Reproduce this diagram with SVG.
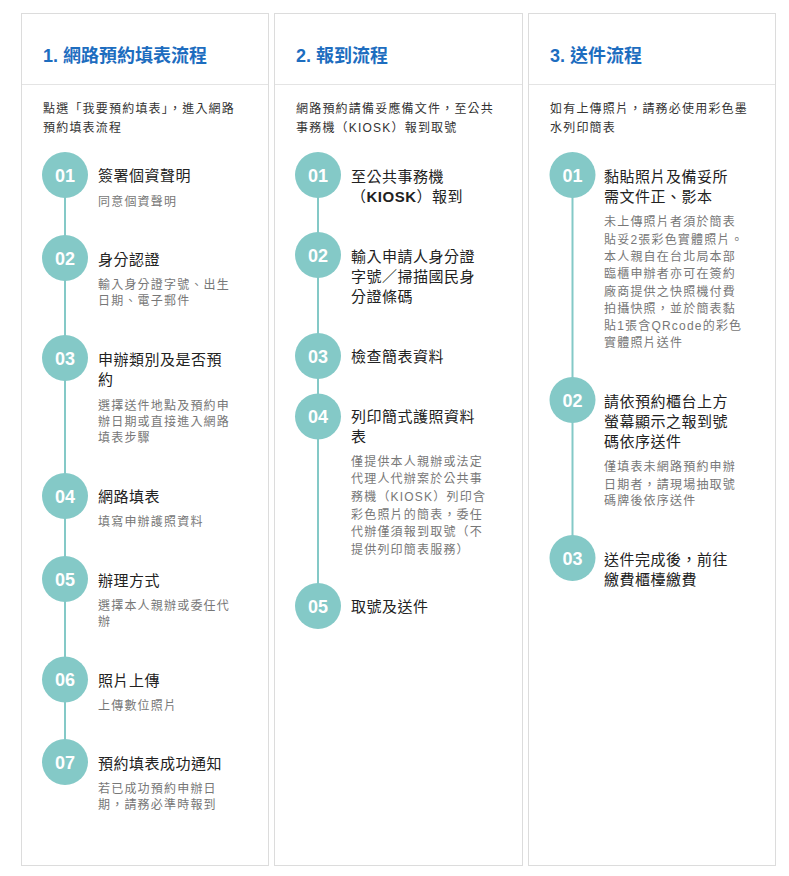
<svg xmlns="http://www.w3.org/2000/svg" width="789" height="876" viewBox="0 0 789 876">
<style>
text{font-family:"Liberation Sans","Noto Sans CJK TC",sans-serif}
.card{fill:#fff;stroke:#dcdcdc;stroke-width:1}
.div{stroke:#e4e4e4;stroke-width:1}
.h{font-size:18px;font-weight:bold;fill:#1d6dbf}
.d{font-size:12px;letter-spacing:1.2px;fill:#333}
.c{fill:#84c9c7}
.n{font-size:18px;font-weight:bold;fill:#fff;text-anchor:middle}
.t{font-size:15px;letter-spacing:0.5px;fill:#222}
.s{font-size:12px;letter-spacing:1.2px;fill:#777}
.ln{stroke:#84c9c7;stroke-width:2}
</style>
<rect width="789" height="876" fill="#fff"/>

<g id="col1">
<rect class="card" x="21.5" y="13.5" width="247" height="852"/>
<line class="div" x1="22" y1="84.5" x2="268" y2="84.5"/>
<text class="h" x="43" y="62">1. 網路預約填表流程</text>
<text class="d" x="43" y="112.6">點選「我要預約填表」，進入網路</text>
<text class="d" x="43" y="131.6">預約填表流程</text>
</g>
<g id="col2">
<rect class="card" x="274.5" y="13.5" width="248" height="852"/>
<line class="div" x1="275" y1="84.5" x2="522" y2="84.5"/>
<text class="h" x="296" y="62">2. 報到流程</text>
<text class="d" x="296" y="112.6">網路預約請備妥應備文件，至公共</text>
<text class="d" x="296" y="131.6">事務機（KIOSK）報到取號</text>
</g>
<g id="col3">
<rect class="card" x="528.5" y="13.5" width="247" height="852"/>
<line class="div" x1="529" y1="84.5" x2="775" y2="84.5"/>
<text class="h" x="550" y="62">3. 送件流程</text>
<text class="d" x="550" y="112.6">如有上傳照片，請務必使用彩色墨</text>
<text class="d" x="550" y="131.6">水列印簡表</text>
</g>

<g id="connectors">
<line class="ln" x1="65" y1="175" x2="65" y2="762"/>
<line class="ln" x1="318" y1="175" x2="318" y2="606"/>
<line class="ln" x1="572.5" y1="175" x2="572.5" y2="558"/>
</g>

<g id="c1s1"><circle class="c" cx="65" cy="175" r="23"/><text class="n" x="65" y="181.5">01</text>
<text class="t" x="98" y="181">簽署個資聲明</text>
<text class="s" x="98" y="206">同意個資聲明</text></g>
<g id="c1s2"><circle class="c" cx="65" cy="258" r="23"/><text class="n" x="65" y="264.5">02</text>
<text class="t" x="98" y="264.7">身分認證</text>
<text class="s" x="98" y="289">輸入身分證字號、出生</text>
<text class="s" x="98" y="304.6">日期、電子郵件</text></g>
<g id="c1s3"><circle class="c" cx="65" cy="358" r="23"/><text class="n" x="65" y="364.5">03</text>
<text class="t" x="98" y="365">申辦類別及是否預</text>
<text class="t" x="98" y="385">約</text>
<text class="s" x="98" y="409.6">選擇送件地點及預約申</text>
<text class="s" x="98" y="426.3">辦日期或直接進入網路</text>
<text class="s" x="98" y="442.3">填表步驟</text></g>
<g id="c1s4"><circle class="c" cx="65" cy="496" r="23"/><text class="n" x="65" y="502.5">04</text>
<text class="t" x="98" y="502.4">網路填表</text>
<text class="s" x="98" y="526.3">填寫申辦護照資料</text></g>
<g id="c1s5"><circle class="c" cx="65" cy="579" r="23"/><text class="n" x="65" y="585.5">05</text>
<text class="t" x="98" y="585.7">辦理方式</text>
<text class="s" x="98" y="609.6">選擇本人親辦或委任代</text>
<text class="s" x="98" y="626.3">辦</text></g>
<g id="c1s6"><circle class="c" cx="65" cy="679.5" r="23"/><text class="n" x="65" y="686">06</text>
<text class="t" x="98" y="685.7">照片上傳</text>
<text class="s" x="98" y="709.6">上傳數位照片</text></g>
<g id="c1s7"><circle class="c" cx="65" cy="762" r="23"/><text class="n" x="65" y="768.5">07</text>
<text class="t" x="98" y="769">預約填表成功通知</text>
<text class="s" x="98" y="793">若已成功預約申辦日</text>
<text class="s" x="98" y="809">期，請務必準時報到</text></g>

<g id="c2s1"><circle class="c" cx="318" cy="175" r="23"/><text class="n" x="318" y="181.5">01</text>
<text class="t" x="351" y="181.7">至公共事務機</text>
<text class="t" x="351" y="201.7">（<tspan font-weight="bold">KIOSK</tspan>）報到</text></g>
<g id="c2s2"><circle class="c" cx="318" cy="255" r="23"/><text class="n" x="318" y="261.5">02</text>
<text class="t" x="351" y="261.7">輸入申請人身分證</text>
<text class="t" x="351" y="281.7">字號／掃描國民身</text>
<text class="t" x="351" y="302.4">分證條碼</text></g>
<g id="c2s3"><circle class="c" cx="318" cy="356" r="23"/><text class="n" x="318" y="362.5">03</text>
<text class="t" x="351" y="361.7">檢查簡表資料</text></g>
<g id="c2s4"><circle class="c" cx="318" cy="416.5" r="23"/><text class="n" x="318" y="423">04</text>
<text class="t" x="351" y="422.4">列印簡式護照資料</text>
<text class="t" x="351" y="442.4">表</text>
<text class="s" x="351" y="465.6">僅提供本人親辦或法定</text>
<text class="s" x="351" y="483.3">代理人代辦案於公共事</text>
<text class="s" x="351" y="501">務機（KIOSK）列印含</text>
<text class="s" x="351" y="518.7">彩色照片的簡表，委任</text>
<text class="s" x="351" y="536.4">代辦僅須報到取號（不</text>
<text class="s" x="351" y="554">提供列印簡表服務）</text></g>
<g id="c2s5"><circle class="c" cx="318" cy="606" r="23"/><text class="n" x="318" y="612.5">05</text>
<text class="t" x="351" y="612.4">取號及送件</text></g>

<g id="c3s1"><circle class="c" cx="572.5" cy="175" r="23"/><text class="n" x="572.5" y="181.5">01</text>
<text class="t" x="604" y="181.7">黏貼照片及備妥所</text>
<text class="t" x="604" y="202.4">需文件正、影本</text>
<text class="s" x="604" y="226.3">未上傳照片者須於簡表</text>
<text class="s" x="604" y="243.6">貼妥2張彩色實體照片。</text>
<text class="s" x="604" y="260.9">本人親自在台北局本部</text>
<text class="s" x="604" y="278.2">臨櫃申辦者亦可在簽約</text>
<text class="s" x="604" y="295.5">廠商提供之快照機付費</text>
<text class="s" x="604" y="312.8">拍攝快照，並於簡表黏</text>
<text class="s" x="604" y="330.1">貼1張含QRcode的彩色</text>
<text class="s" x="604" y="347.4">實體照片送件</text></g>
<g id="c3s2"><circle class="c" cx="572.5" cy="400" r="23"/><text class="n" x="572.5" y="406.5">02</text>
<text class="t" x="604" y="407.4">請依預約櫃台上方</text>
<text class="t" x="604" y="427.4">螢幕顯示之報到號</text>
<text class="t" x="604" y="447.4">碼依序送件</text>
<text class="s" x="604" y="471.3">僅填表未網路預約申辦</text>
<text class="s" x="604" y="488.6">日期者，請現場抽取號</text>
<text class="s" x="604" y="505.3">碼牌後依序送件</text></g>
<g id="c3s3"><circle class="c" cx="572.5" cy="558" r="23"/><text class="n" x="572.5" y="564.5">03</text>
<text class="t" x="604" y="564.7">送件完成後，前往</text>
<text class="t" x="604" y="584.7">繳費櫃檯繳費</text></g>
</svg>
